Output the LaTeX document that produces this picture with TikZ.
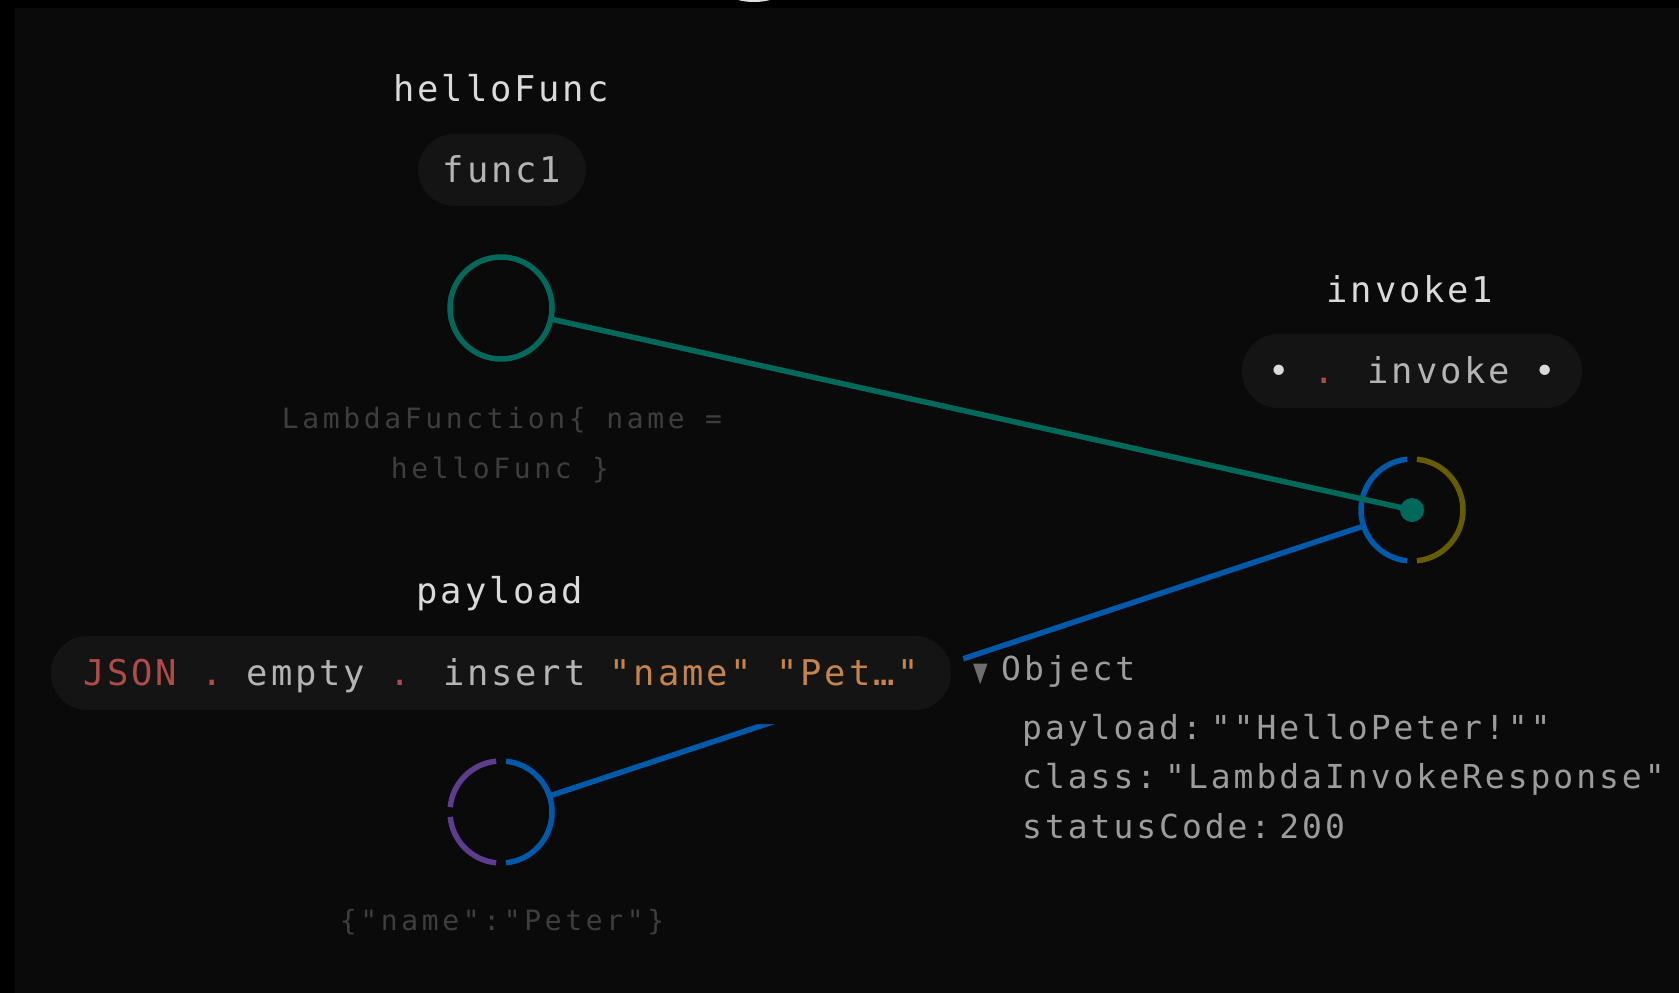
\documentclass[tikz,border=0pt]{standalone}
\usepackage{fontspec}
\setmainfont{DejaVu Sans}
\newfontfamily\codefont[LetterSpace=8]{DejaVu Sans Mono}
\newfontfamily\notefont[LetterSpace=13]{DejaVu Sans Mono}
\newfontfamily\treefont[LetterSpace=9]{DejaVu Sans Mono}
\newfontfamily\symfont{DejaVu Sans}

\definecolor{bgc}{HTML}{0A0A0A}
\definecolor{pillc}{HTML}{141414}
\definecolor{tealc}{HTML}{00695C}
\definecolor{bluec}{HTML}{0059A9}
\definecolor{olivec}{HTML}{665C00}
\definecolor{purplec}{HTML}{5E3C8E}
\definecolor{labelc}{HTML}{DADADA}
\definecolor{codec}{HTML}{B4B4B4}
\definecolor{dimc}{HTML}{3E3E3E}
\definecolor{redc}{HTML}{B04C48}
\definecolor{orangec}{HTML}{C4844C}
\definecolor{treec}{HTML}{9C9C9C}
\definecolor{tric}{HTML}{6E6E6E}

\tikzset{
  title/.style={font=\codefont\fontsize{35.5}{36}\selectfont, text=labelc, inner sep=0pt, anchor=base},
  pill/.style={fill=pillc, draw=bgc, line width=14pt, rounded corners=43pt, inner sep=0pt,
    minimum height=88pt, text height=25pt, text depth=0pt,
    font=\codefont\fontsize{35.5}{36}\selectfont, text=codec},
  note/.style={font=\notefont\fontsize{28}{28}\selectfont, text=dimc, inner sep=0pt, anchor=base},
  port/.style={circle, inner sep=0pt, minimum size=102pt},
  wire/.style={line width=5.5pt},
  tree/.style={font=\treefont\fontsize{33}{33}\selectfont, text=treec, inner sep=0pt, anchor=base west},
}

\begin{document}
\begin{tikzpicture}[x=1pt,y=1pt]
  \useasboundingbox (0,0) rectangle (1679,-993);
  % canvas
  \fill[black] (0,0) rectangle (1679,-993);
  \fill[bgc] (15,-8) rectangle (1679,-993);
  \begin{scope}
    \clip (15,0) rectangle (1679,-8);
    \fill[white!88!black] (754,63) circle (65pt);
  \end{scope}

  % ports
  \node[port, draw=tealc, wire] (fout) at (501,-308) {};
  \node[port] (inv) at (1412,-510) {};
  \node[port] (pin) at (501,-812) {};

  % split rings
  \draw[wire, bluec] ([shift={(95.5:51pt)}]inv.center) arc[start angle=95.5, end angle=264.5, radius=51pt];
  \draw[wire, olivec] ([shift={(-84.5:51pt)}]inv.center) arc[start angle=-84.5, end angle=84.5, radius=51pt];
  \draw[wire, bluec] ([shift={(-84.5:51pt)}]pin.center) arc[start angle=-84.5, end angle=84.5, radius=51pt];
  \draw[wire, purplec] ([shift={(95.5:51pt)}]pin.center) arc[start angle=95.5, end angle=174.5, radius=51pt];
  \draw[wire, purplec] ([shift={(185.5:51pt)}]pin.center) arc[start angle=185.5, end angle=264.5, radius=51pt];

  % connectors
  \draw[wire, bluec] (pin) -- (inv);
  \draw[wire, tealc] (fout) -- (inv.center);
  \fill[tealc] (inv.center) circle (12pt);

  % code pills
  \node[pill, minimum width=182pt, minimum height=86pt] (fn) at (502,-170) {func1};
  \node[pill, minimum width=354pt] (call) at (1412,-371)
    {\textcolor{labelc}{•} \textcolor{redc}{.} invoke \textcolor{labelc}{•}};
  \node[pill, minimum width=914pt] (json) at (501,-673)
    {\textcolor{redc}{JSON .} empty \textcolor{redc}{.} insert \textcolor{orangec}{"name" "Pet…"}};

  % labels
  \node[title] (hfl) at (501,-101) {helloFunc};
  \node[title] (inl) at (1410,-302) {invoke1};
  \node[title] (pll) at (500,-603) {payload};

  % value notes
  \node[note] (n1) at (502,-428) {LambdaFunction\{ name =};
  \node[note] (n2) at (500,-478) {helloFunc \}};
  \node[note] (n3) at (502,-930) {\{"name":"Peter"\}};

  % result tree
  \node[inner sep=0pt, anchor=base west, text=tric, font=\symfont\fontsize{27}{27}\selectfont] (tri) at (973,-681) {\scalebox{0.7}[1]{▼}};
  \node[tree] (obj) at (1001,-680) {Object};
  \node[tree] (t1) at (1022,-739) {payload:\hspace{9pt}""HelloPeter!""};
  \node[tree] (t2) at (1022,-788) {class:\hspace{9pt}"LambdaInvokeResponse"};
  \node[tree] (t3) at (1022,-838) {statusCode:\hspace{9pt}200};
\end{tikzpicture}
\end{document}
